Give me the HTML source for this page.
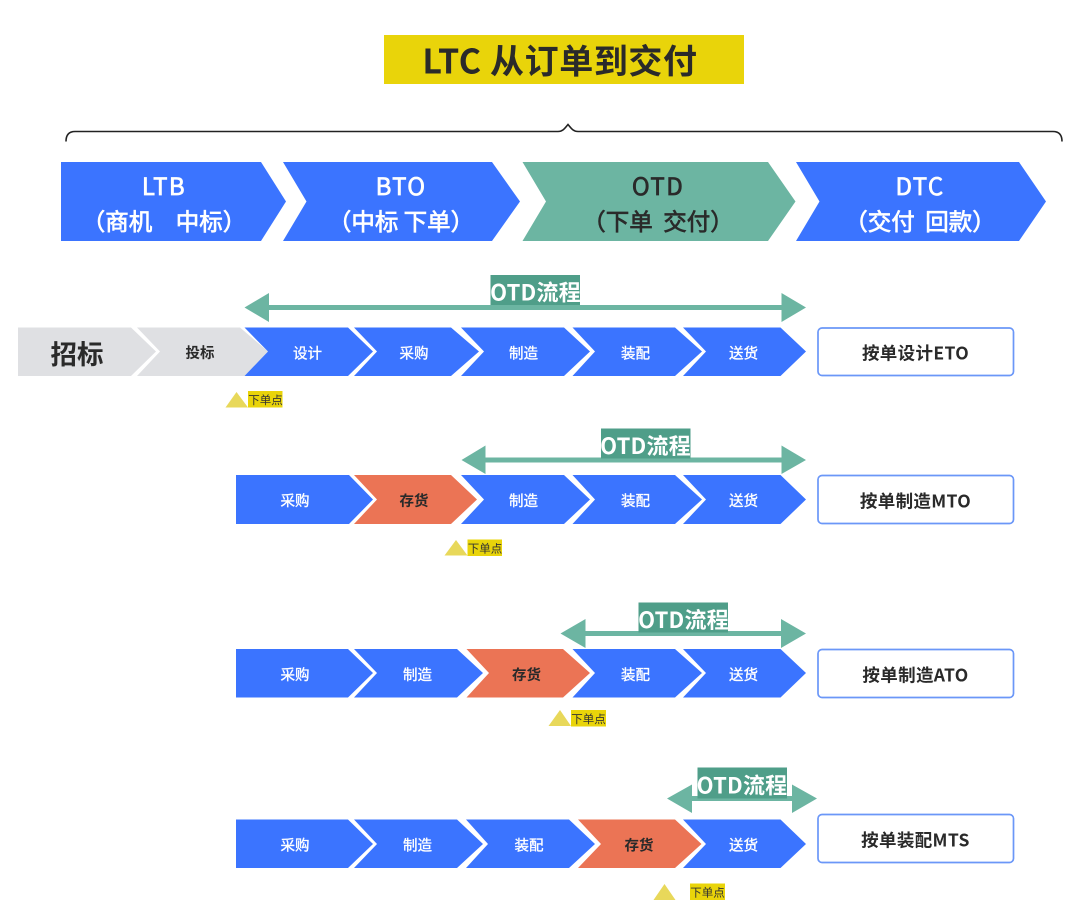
<!DOCTYPE html>
<html><head><meta charset="utf-8"><style>
html,body{margin:0;padding:0;background:#fff}
svg{display:block}
text{font-family:"Noto Sans CJK SC","Liberation Sans",sans-serif;text-anchor:middle;white-space:pre}
.h{font-size:23.5px;fill:#fff;stroke:#fff;stroke-width:.7px}
.hd{font-size:23.5px;fill:#2a2a2a;stroke:#2a2a2a;stroke-width:.7px}
.l{font-size:24px;letter-spacing:1.4px}
.c{font-size:14.5px;fill:#fff;stroke:#fff;stroke-width:.35px}
.d{font-size:14.5px;font-weight:700;fill:#2a2a2a}
.r{font-size:17.5px;font-weight:700;fill:#2a2a2a;letter-spacing:.35px}
.o{font-size:22px;font-weight:700;fill:#fff;letter-spacing:.2px}
.p{font-size:11.5px;fill:#333}
</style></head><body>
<svg xmlns="http://www.w3.org/2000/svg" width="1080" height="918" viewBox="0 0 1080 918">
<rect width="1080" height="918" fill="#fff"/>
<rect x="384" y="35" width="360" height="49" fill="#e9d40a"/>
<text x="560" y="73.5" style="font-size:34px;font-weight:700;fill:#2a2a2a;letter-spacing:.6px">LTC 从订单到交付</text>
<path d="M66 141.5C66 135 69 131.5 75 131.5H558C563 131.5 565 128 568 124.5C571 128 573 131.5 578 131.5H1053C1059 131.5 1062 135 1062 141.5" fill="none" stroke="#222" stroke-width="1.6"/>

<g fill="#3b74ff">
<polygon points="61,162 261,162 286,201.5 261,241 61,241"/>
<polygon points="283,162 492,162 520,201.5 492,241 283,241 306.5,201.5"/>
<polygon points="796,162 1019,162 1046,201.5 1019,241 796,241 819.5,201.5"/>
</g>
<polygon points="522.5,162 768,162 795.5,201.5 768,241 522.5,241 546,201.5" fill="#6cb5a2"/>
<text class="h l" x="164" y="195">LTB</text>
<text class="h" x="164" y="230">（商机　中标）</text>
<text class="h l" x="401" y="195">BTO</text>
<text class="h" x="401" y="230">（中标 下单）</text>
<text class="hd l" x="658" y="195">OTD</text>
<text class="hd" x="658" y="230">（下单  交付）</text>
<text class="h l" x="920" y="195">DTC</text>
<text class="h" x="920" y="230">（交付  回款）</text>

<!-- Row 1 -->
<polygon points="18,327.5 131,327.5 156,351.5 131,376 18,376" fill="#dfe0e3"/>
<polygon points="137,327.5 240,327.5 268,351.5 244.5,376 137,376 160,351.5" fill="#dfe0e3"/>
<g fill="#3b74ff">
<polygon points="244.5,327.5 348,327.5 373,351.5 348,376 244.5,376 268,351.5"/>
<polygon points="354,327.5 451,327.5 479,351.5 451,376 354,376 377,351.5"/>
<polygon points="461,327.5 564,327.5 590,351.5 564,376 461,376 484,351.5"/>
<polygon points="572.5,327.5 675,327.5 702,351.5 675,376 572.5,376 595,351.5"/>
<polygon points="683,327.5 780.5,327.5 806,351.5 780.5,376 683,376 706,351.5"/>
</g>
<text x="77" y="364" style="font-size:26.5px;font-weight:700;fill:#2a2a2a">招标</text>
<text class="d" x="200" y="358">投标</text>
<text class="c" x="307.5" y="358.5">设计</text>
<text class="c" x="414" y="358.5">采购</text>
<text class="c" x="523.5" y="358.5">制造</text>
<text class="c" x="635.5" y="358.5">装配</text>
<text class="c" x="743.5" y="358.5">送货</text>

<!-- Row 2 -->
<g fill="#3b74ff">
<polygon points="236,475 349,475 373,499.5 349,524 236,524"/>
<polygon points="461,475 564,475 590,499.5 564,524 461,524 484,499.5"/>
<polygon points="572.5,475 675,475 702,499.5 675,524 572.5,524 595,499.5"/>
<polygon points="683,475 780.5,475 806,499.5 780.5,524 683,524 706,499.5"/>
</g>
<polygon points="354,475 451,475 477,499.5 451,524 354,524 377,499.5" fill="#eb7455"/>
<text class="c" x="295" y="506">采购</text>
<text class="d" x="414" y="506">存货</text>
<text class="c" x="523.5" y="506">制造</text>
<text class="c" x="635.5" y="506">装配</text>
<text class="c" x="743.5" y="506">送货</text>

<!-- Row 3 -->
<g fill="#3b74ff">
<polygon points="236,649 348,649 373,673 348,697.5 236,697.5"/>
<polygon points="354,649 457,649 483,673 457,697.5 354,697.5 377,673"/>
<polygon points="572.5,649 675,649 702,673 675,697.5 572.5,697.5 595,673"/>
<polygon points="683,649 780.5,649 806,673 780.5,697.5 683,697.5 706,673"/>
</g>
<polygon points="466.5,649 563,649 590,673 563,697.5 466.5,697.5 489,673" fill="#eb7455"/>
<text class="c" x="295" y="680">采购</text>
<text class="c" x="417.5" y="680">制造</text>
<text class="d" x="526.5" y="680">存货</text>
<text class="c" x="635.5" y="680">装配</text>
<text class="c" x="743.5" y="680">送货</text>

<!-- Row 4 -->
<g fill="#3b74ff">
<polygon points="236,819.5 348,819.5 373,844 348,868 236,868"/>
<polygon points="354,819.5 457,819.5 483,844 457,868 354,868 377,844"/>
<polygon points="466,819.5 569,819.5 595,844 569,868 466,868 488,844"/>
<polygon points="683,819.5 780.5,819.5 806,844 780.5,868 683,868 706,844"/>
</g>
<polygon points="578,819.5 675,819.5 701.5,844 675,868 578,868 601,844" fill="#eb7455"/>
<text class="c" x="295" y="850.5">采购</text>
<text class="c" x="417.5" y="850.5">制造</text>
<text class="c" x="529" y="850.5">装配</text>
<text class="d" x="639" y="850.5">存货</text>
<text class="c" x="743.5" y="850.5">送货</text>

<!-- Result boxes -->
<g fill="#fff" stroke="#6b97f8" stroke-width="1.7">
<rect x="818" y="328" width="195.5" height="47.5" rx="4"/>
<rect x="818" y="475.5" width="195.5" height="48" rx="4"/>
<rect x="818" y="649.5" width="195.5" height="48" rx="4"/>
<rect x="818" y="814.5" width="195.5" height="48" rx="4"/>
</g>
<text class="r" x="915.5" y="359.5">按单设计ETO</text>
<text class="r" x="915.5" y="507.5">按单制造MTO</text>
<text class="r" x="915.5" y="681.5">按单制造ATO</text>
<text class="r" x="915.5" y="846.5">按单装配MTS</text>

<!-- OTD arrows -->
<g fill="#6cb5a2">
<polygon points="244.5,307.5 269,293 269,305 781.5,305 781.5,293 806,307.5 781.5,322 781.5,310 269,310 269,322"/>
<polygon points="461.5,460 485.5,445.5 485.5,457.5 781.5,457.5 781.5,445.5 806,460 781.5,474 781.5,462.5 485.5,462.5 485.5,474"/>
<polygon points="560.5,633.5 585.5,619 585.5,631 781,631 781,619 806,633.5 781,648 781,636 585.5,636 585.5,648"/>
<polygon points="667,798.5 692,784.5 692,796 792,796 792,784.5 817,798.5 792,813 792,801 692,801 692,813"/>
</g>
<g fill="#4f9e89">
<rect x="490.5" y="275" width="89.5" height="30"/>
<rect x="601" y="428.5" width="89.5" height="30"/>
<rect x="638.5" y="602.5" width="89.5" height="30"/>
<rect x="697.5" y="767.5" width="89.5" height="31"/>
</g>
<text class="o" x="535.5" y="300.5">OTD流程</text>
<text class="o" x="645.5" y="454">OTD流程</text>
<text class="o" x="683.5" y="628">OTD流程</text>
<text class="o" x="742" y="793.5">OTD流程</text>

<!-- Order points -->
<g fill="#e8d85a">
<polygon points="225.5,407.5 236.5,392 248,407.5"/>
<polygon points="444.5,555.5 456,540 467.5,555.5"/>
<polygon points="548.5,726 560,710 571,726"/>
<polygon points="653.5,900 664.5,884 675.5,900"/>
</g>
<g fill="#e9d40a">
<rect x="248" y="391" width="34.5" height="16.5"/>
<rect x="467.5" y="539.5" width="34.5" height="16.5"/>
<rect x="571" y="710" width="35" height="16.5"/>
<rect x="690" y="883.5" width="35" height="16.5"/>
</g>
<text class="p" x="265.5" y="404">下单点</text>
<text class="p" x="485" y="552.5">下单点</text>
<text class="p" x="588.5" y="723">下单点</text>
<text class="p" x="707.5" y="896.5">下单点</text>
</svg>
</body></html>
